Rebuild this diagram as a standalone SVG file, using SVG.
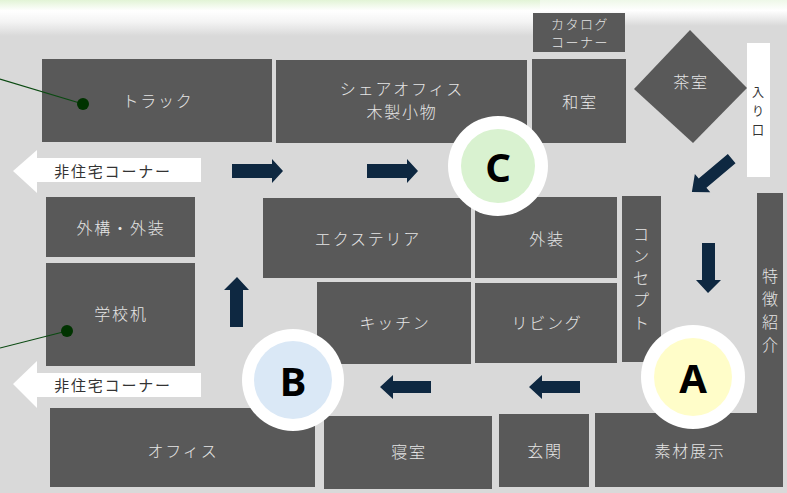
<svg xmlns="http://www.w3.org/2000/svg" width="787" height="493" viewBox="0 0 787 493">
<defs>
<linearGradient id="topfade" x1="0" y1="0" x2="0" y2="1">
<stop offset="0" stop-color="#e2f4d6"/>
<stop offset="0.3" stop-color="#ffffff"/>
<stop offset="0.6" stop-color="#f4f4f4"/>
<stop offset="1" stop-color="#d9d9d9"/>
</linearGradient>
<linearGradient id="topfadeR" x1="0" y1="0" x2="0" y2="1">
<stop offset="0" stop-color="#eef8e8"/>
<stop offset="0.4" stop-color="#ffffff"/>
<stop offset="1" stop-color="#d9d9d9"/>
</linearGradient>
<style>
.box{fill:#595959;}
.lbl{font-family:"Noto Sans CJK JP","Noto Sans",sans-serif;font-size:16px;font-weight:300;letter-spacing:1.8px;fill:#e6e6e6;text-anchor:middle;dominant-baseline:central;}
.sm{font-size:13px;letter-spacing:1.5px;}
.v{letter-spacing:0;}
.dark{fill:#333333;font-size:15px;font-weight:400;}
.ent{font-size:12px;}
.nav{fill:#0e2841;}
.wa{fill:#ffffff;}
.letter{font-family:"Noto Sans","Liberation Sans",sans-serif;font-weight:bold;font-size:40px;fill:#000;text-anchor:middle;dominant-baseline:central;}
.ln{stroke:#0b4a12;stroke-width:1.2;fill:none;}
.dot{fill:#003300;}
</style>
</defs>
<rect x="0" y="0" width="787" height="493" fill="#d9d9d9"/>
<rect x="0" y="0" width="540" height="36" fill="url(#topfade)"/>
<rect x="540" y="0" width="247" height="26" fill="url(#topfadeR)"/>

<g id="track"><rect class="box" x="42" y="59" width="230" height="83"/><text class="lbl" x="158" y="100">トラック</text></g>
<g id="share-office"><rect class="box" x="276" y="60" width="251" height="83"/><text class="lbl" x="402" y="88">シェアオフィス</text><text class="lbl" x="402" y="111">木製小物</text></g>
<g id="catalog"><rect class="box" x="533" y="13" width="92" height="39"/><text class="lbl sm" x="580" y="23">カタログ</text><text class="lbl sm" x="580" y="41">コーナー</text></g>
<g id="washitsu"><rect class="box" x="532" y="59" width="94" height="84"/><text class="lbl" x="580" y="101">和室</text></g>
<g id="chashitsu"><polygon class="box" points="690,30 747,88 693,143 634,89"/><text class="lbl" x="691" y="81">茶室</text></g>
<g id="entrance"><rect x="747" y="43" width="23" height="134" fill="#ffffff"/><text class="lbl dark v ent" x="758" y="91">入</text><text class="lbl dark v ent" x="758" y="110">り</text><text class="lbl dark v ent" x="758" y="129">口</text></g>

<g id="gaiko"><rect class="box" x="46" y="197" width="149" height="60"/><text class="lbl" x="121" y="227">外構・外装</text></g>
<g id="gakkou"><rect class="box" x="46" y="263" width="149" height="103"/><text class="lbl" x="121" y="313">学校机</text></g>
<g id="exterior"><rect class="box" x="263" y="198" width="208" height="80"/><text class="lbl" x="368" y="238">エクステリア</text></g>
<g id="gaisou"><rect class="box" x="475" y="197" width="142" height="81"/><text class="lbl" x="547" y="238">外装</text></g>
<g id="kitchen"><rect class="box" x="317" y="282" width="154" height="82"/><text class="lbl" x="395" y="322">キッチン</text></g>
<g id="living"><rect class="box" x="475" y="283" width="142" height="80"/><text class="lbl" x="547" y="322">リビング</text></g>
<g id="concept"><rect class="box" x="622" y="196" width="39" height="166"/>
<text class="lbl v" x="641" y="233">コ</text><text class="lbl v" x="641" y="255">ン</text><text class="lbl v" x="641" y="277">セ</text><text class="lbl v" x="641" y="299">プ</text><text class="lbl v" x="641" y="322">ト</text></g>
<g id="tokucho"><path class="box" d="M757,193 H783 V487 H595 V413 H757 Z"/>
<text class="lbl v" x="770" y="275">特</text><text class="lbl v" x="770" y="298">徴</text><text class="lbl v" x="770" y="321">紹</text><text class="lbl v" x="770" y="344">介</text>
<text class="lbl" x="690" y="450">素材展示</text></g>
<g id="office"><rect class="box" x="50" y="408" width="265" height="79"/><text class="lbl" x="183" y="450">オフィス</text></g>
<g id="shinshitsu"><rect class="box" x="324" y="416" width="168" height="73"/><text class="lbl" x="409" y="451">寝室</text></g>
<g id="genkan"><rect class="box" x="499" y="414" width="90" height="73"/><text class="lbl" x="545" y="450">玄関</text></g>

<g id="nonres1"><polygon class="wa" points="13,171 37,150 37,158 201,158 201,182 37,182 37,193"/><text class="lbl dark" x="113" y="170">非住宅コーナー</text></g>
<g id="nonres2"><polygon class="wa" points="13,384 37,361 37,373 201,373 201,397 37,397 37,408"/><text class="lbl dark" x="113" y="384">非住宅コーナー</text></g>

<g id="circleC"><circle cx="498" cy="166" r="50" fill="#ffffff"/><circle cx="498" cy="166" r="37" fill="#d9f2d0"/><text class="letter" x="498" y="166">C</text></g>
<g id="circleB"><circle cx="293" cy="380" r="51" fill="#ffffff"/><circle cx="293" cy="380" r="39" fill="#dae8f6"/><text class="letter" x="293" y="380">B</text></g>
<g id="circleA"><circle cx="693" cy="377" r="52" fill="#ffffff"/><circle cx="693" cy="377" r="39" fill="#fffdc9"/><text class="letter" x="693" y="377">A</text></g>

<g id="connectors">
<polygon class="nav" points="232,164 272,164 272,159 283,171 272,183 272,178 232,178"/>
<polygon class="nav" points="367,164 407,164 407,159 418,171 407,183 407,178 367,178"/>
<polygon class="nav" points="230,327 230,290 224,290 237,277 249,290 243,290 243,327"/>
<polygon class="nav" points="702,243 715,243 715,280 721,280 708,293 696,280 702,280"/>
<polygon class="nav" points="580,381 542,381 542,375 529,387 542,399 542,393 580,393"/>
<polygon class="nav" points="431,381 393,381 393,375 380,387 393,399 393,393 431,393"/>
<polygon class="nav" transform="rotate(-40 711 176)" points="738,170 700,170 700,164 686,176 700,188 700,182 738,182"/>
<line class="ln" x1="0" y1="79" x2="83" y2="104"/>
<circle class="dot" cx="83" cy="104" r="6"/>
<line class="ln" x1="0" y1="348" x2="67" y2="331"/>
<circle class="dot" cx="67" cy="331" r="6"/>
</g>
</svg>
